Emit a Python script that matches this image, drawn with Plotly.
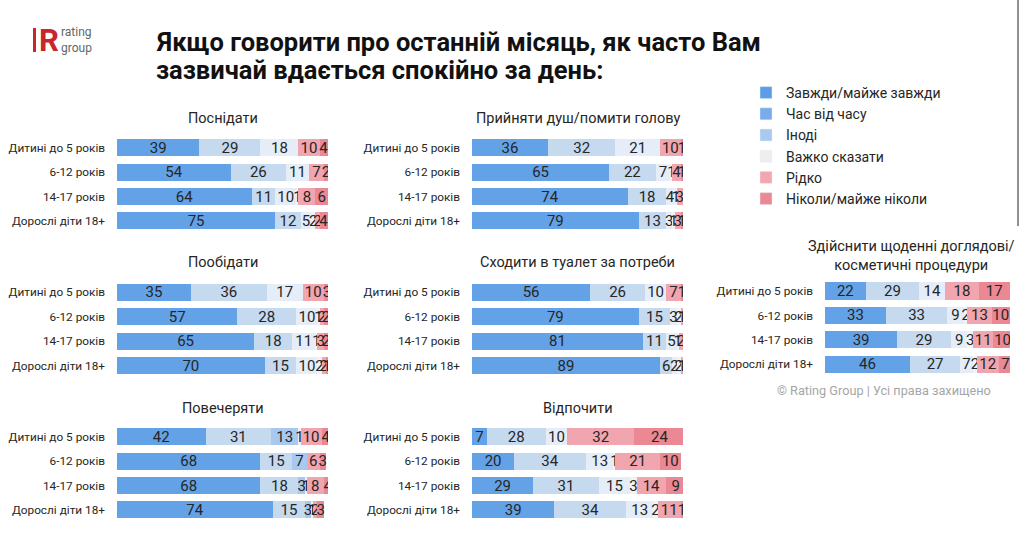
import plotly.graph_objects as go

# ---------------- data ----------------
groups = ["Дитині до 5 років", "6-12 років", "14-17 років", "Дорослі діти 18+"]
series = ["Завжди/майже завжди", "Час від часу", "Іноді", "Важко сказати",
          "Рідко", "Ніколи/майже ніколи"]

# rows = groups, columns = series (in %)
snidaty = [[39, 29, 18, 0, 10, 4], [54, 26, 11, 0, 7, 2], [64, 11, 10, 1, 8, 6], [75, 12, 5, 2, 2, 4]]
dush = [[36, 32, 21, 0, 10, 1], [65, 22, 7, 1, 4, 1], [74, 18, 4, 1, 3, 0], [79, 13, 3, 1, 3, 1]]
obidaty = [[35, 36, 17, 0, 10, 3], [57, 28, 10, 1, 2, 2], [65, 18, 11, 1, 3, 2], [70, 15, 10, 2, 2, 1]]
tualet = [[56, 26, 10, 0, 7, 1], [79, 15, 3, 2, 1, 0], [81, 11, 5, 1, 2, 0], [89, 6, 2, 2, 1, 0]]
vecheryaty = [[42, 31, 13, 1, 10, 4], [68, 15, 7, 0, 6, 3], [68, 18, 3, 1, 8, 4], [74, 15, 3, 1, 2, 3]]
vidpochyty = [[7, 28, 10, 0, 32, 24], [20, 34, 13, 1, 21, 10], [29, 31, 15, 3, 14, 9], [39, 34, 13, 2, 11, 1]]
doglyad = [[22, 29, 14, 0, 18, 17], [33, 33, 9, 2, 13, 10], [39, 29, 9, 3, 11, 10], [46, 27, 7, 2, 12, 7]]

panel_titles = ["Поснідати", "Прийняти душ/помити голову", "Пообідати",
                "Сходити в туалет за потреби", "Повечеряти", "Відпочити",
                "Здійснити щоденні доглядові/<br>косметичні процедури"]
panel_data = [snidaty, dush, obidaty, tualet, vecheryaty, vidpochyty, doglyad]

title_lines = ["Якщо говорити про останній місяць, як часто Вам",
               "зазвичай вдається спокійно за день:"]

# ---------------- style ----------------
W, H = 1024, 533
bar_colors = ["#63a2e7", "#c5d9ef", "#e4edf8", "#eff3f8", "#f1a5ae", "#ea8894"]
bar_colors_alt3 = "#a8c8f0"   # "Іноді" colour used in the "Повечеряти" block
legend_colors = ["#5b9de6", "#78aceb", "#a9c9f1", "#eeeeee", "#f2a6b0", "#ec8894"]
TXT = "#262626"
FONT = "Roboto"

# pixel layout of each block: (bar left, bar right, first row centre, title y)
layout_px = [
    (117, 328, 147.7, 118),
    (472, 683, 147.7, 118),
    (117, 328, 292.3, 263),
    (472, 683, 292.3, 263),
    (117, 328, 436.7, 408),
    (472, 683, 436.7, 408),
    (825, 1010, 291.0, 256),
]
ROW = 24.4


def px(x):
    return x / W


def py(y):
    return 1 - y / H


fig = go.Figure()
layout_axes = {}
annotations = []

for i, (title, data) in enumerate(zip(panel_titles, panel_data)):
    n = i + 1
    xa = "x" if n == 1 else f"x{n}"
    ya = "y" if n == 1 else f"y{n}"
    x0, x1, r0, ty = layout_px[i]
    top = r0 - ROW / 2
    bot = top + ROW * len(groups)
    for s, sname in enumerate(series):
        vals = [row[s] for row in data]
        col = bar_colors[s]
        if i == 4 and s == 2:
            col = bar_colors_alt3
        fig.add_trace(go.Bar(
            x=vals, y=groups, orientation="h", name=sname,
            marker=dict(color=col, line=dict(width=0)),
            text=[str(v) if v > 0 else "" for v in vals],
            textposition="inside", insidetextanchor="middle",
            textangle=0, constraintext="none",
            insidetextfont=dict(family=FONT, size=15, color=TXT),
            xaxis=xa, yaxis=ya, showlegend=False, hoverinfo="skip",
        ))
    layout_axes["xaxis" if n == 1 else f"xaxis{n}"] = dict(
        domain=[px(x0), px(x1)], range=[0, 100], anchor=ya,
        showgrid=False, zeroline=False, showticklabels=False, fixedrange=True,
    )
    layout_axes["yaxis" if n == 1 else f"yaxis{n}"] = dict(
        domain=[py(bot), py(top)], anchor=xa, autorange="reversed",
        showgrid=False, zeroline=False, ticks="",
        ticklabelstandoff=11,
        tickfont=dict(family=FONT, size=11.8, color=TXT),
        categoryorder="array", categoryarray=groups,
    )
    annotations.append(dict(
        text=title, x=px((x0 + x1) / 2 - (6 if n == 7 else 0)), y=py(ty),
        xref="paper", yref="paper", showarrow=False,
        xanchor="center", yanchor="middle",
        font=dict(family=FONT, size=14.5, color=TXT),
    ))

# legend entries (legend swatches use their own palette)
for s, sname in enumerate(series):
    fig.add_trace(go.Bar(
        x=[None], y=[None], orientation="h", name=sname,
        marker=dict(color=legend_colors[s]), xaxis="x", yaxis="y",
        showlegend=True, hoverinfo="skip",
    ))

# main title (two lines)
for k, (line, ly) in enumerate(zip(title_lines, [42, 70])):
    annotations.append(dict(
        text=f"<b>{line}</b>", x=px(154), y=py(ly), xref="paper", yref="paper",
        showarrow=False, xanchor="left", yanchor="middle", align="left",
        font=dict(family=FONT, size=25.5, color="#111111"),
    ))
# logo
annotations.append(dict(
    text="<b>R</b>", x=px(37), y=py(40), xref="paper", yref="paper",
    showarrow=False, xanchor="left", yanchor="middle",
    font=dict(family=FONT, size=31, color="#c8262c"),
))
annotations.append(dict(
    text="rating<br>group", x=px(59), y=py(40), xref="paper", yref="paper",
    showarrow=False, xanchor="left", yanchor="middle", align="left",
    font=dict(family=FONT, size=12, color="#666666"),
))
# copyright
annotations.append(dict(
    text="© Rating Group | Усі права захищено", x=px(775), y=py(390),
    xref="paper", yref="paper", showarrow=False, xanchor="left", yanchor="middle",
    font=dict(family=FONT, size=12.7, color="#a6a6a6"),
))

shapes = [
    dict(type="rect", xref="paper", yref="paper", x0=px(33), x1=px(36),
         y0=py(52), y1=py(28), fillcolor="#c8262c", line=dict(width=0)),
    dict(type="line", xref="paper", yref="paper", x0=px(1018), x1=px(1018),
         y0=py(0), y1=py(226), line=dict(color="#222222", width=1)),
]

fig.update_layout(
    width=W, height=H, margin=dict(l=0, r=0, t=0, b=0),
    paper_bgcolor="white", plot_bgcolor="white",
    barmode="stack", bargap=0.3,
    showlegend=True,
    legend=dict(
        x=px(746), y=py(77), xanchor="left", yanchor="top",
        font=dict(family=FONT, size=14, color=TXT),
        traceorder="normal", itemwidth=30, tracegroupgap=0,
        bgcolor="rgba(0,0,0,0)",
    ),
    annotations=annotations, shapes=shapes,
    font=dict(family=FONT, color=TXT),
    **layout_axes,
)

fig.write_html("out.html")
